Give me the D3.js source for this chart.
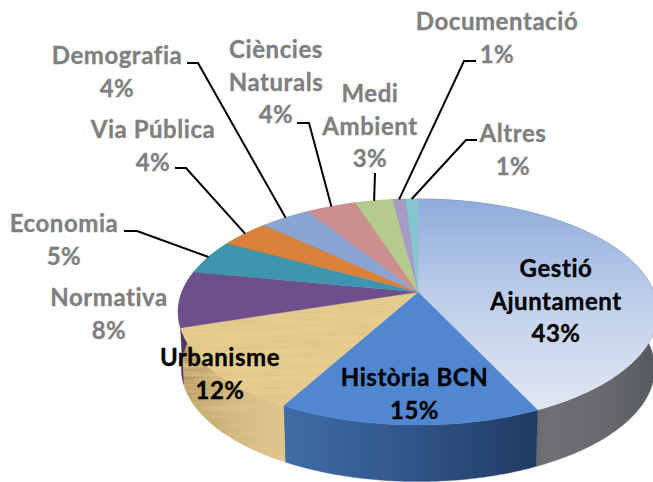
<!DOCTYPE html>
<html>
<head>
<meta charset="utf-8">
<script src="https://cdn.jsdelivr.net/npm/d3@7"></script>
<style>
html,body{margin:0;padding:0;background:#fff;overflow:hidden}
svg{display:block}
text{font-family:Lato,"Open Sans",sans-serif;font-weight:700;font-size:24px;letter-spacing:0.55px;text-anchor:middle;font-variant-ligatures:none;stroke-width:0.35px}
</style>
</head>
<body>
<script>
const categories = ["Gestió Ajuntament","Història BCN","Urbanisme","Normativa","Economia","Via Pública","Demografia","Ciències Naturals","Medi Ambient","Documentació","Altres"];
const values = [43,15,12,8,5,4,4,4,3,1,1];
const topColors = ["url(#gTop)","#5087d0","#e7cd8e","#6e4f8d","#3f95ad","#d9813a","#8aa5d2","#cc8f8d","#b5cb8d","#a79bc5","#85c5cf"];
const wallColors = ["url(#gWall)","url(#hWall)","url(#uWall)","#4e3668","#2d6c7e","#a05e2a","#64799a","#956866","#849567","#7a7190","#61909a"];
const darkLabels = ["Gestió Ajuntament","Història BCN","Urbanisme"];

// label layout: centre x, first baseline, line break list, leader [start, elbow]
const layout = {
  "Gestió Ajuntament":{x:556,y:277,lines:["Gestió","Ajuntament"]},
  "Història BCN":{x:414.5,y:386,lines:["Història BCN"]},
  "Urbanisme":{x:220,y:366,lines:["Urbanisme"]},
  "Normativa":{x:109,y:306,lines:["Normativa"]},
  "Economia":{x:64,y:232,lines:["Economia"],leader:[[124,231],[137,231]]},
  "Via Pública":{x:153,y:138,lines:["Via Pública"],leader:[[175,168],[186,168]]},
  "Demografia":{x:117,y:64,lines:["Demografia"],leader:[[187,63],[198,63]]},
  "Ciències Naturals":{x:276,y:58,lines:["Ciències","Naturals"],leader:[[297,123],[309,123]]},
  "Medi Ambient":{x:370,y:102,lines:["Medi","Ambient"],leader:[[375,173]]},
  "Documentació":{x:497,y:30,lines:["Documentació"],leader:[[476,61],[464,61]]},
  "Altres":{x:513,y:142,lines:["Altres"],leader:[[477,140],[466,140]]}
};

const W=653,H=482,cx=418,cy=292,persp=-0.177,ky=109.5,kx=236,depth=56.5,shrink=0.987,lineGap=32.5;
const project = a => {
  const co=Math.sin(a), s=-Math.cos(a), q=1+persp*s;
  return [cx+kx*co/q, cy+ky*s/q];
};
const lower = p => [cx+(p[0]-cx)*shrink, p[1]+depth];

const svg=d3.select("body").append("svg").attr("width",W).attr("height",H);
const defs=svg.append("defs");
function grad(id,x2,y2,stops){
  const g=defs.append("linearGradient").attr("id",id).attr("x1",0).attr("y1",0).attr("x2",x2).attr("y2",y2);
  stops.forEach(([o,c])=>g.append("stop").attr("offset",o).attr("stop-color",c));
}
grad("gTop",0,1,[[0,"#8fabdb"],[0.45,"#bccde9"],[1,"#e1e7f3"]]);
grad("gWall",1,0,[[0,"#4a4c50"],[0.55,"#6e7073"],[0.8,"#66686c"],[1,"#55585d"]]);
grad("hWall",1,0,[[0,"#3f6da6"],[0.5,"#31558a"],[1,"#203a61"]]);
grad("uWall",1,0,[[0,"#b3975e"],[0.5,"#d3b87f"],[1,"#e0c890"]]);
const f=defs.append("filter").attr("id","wood").attr("x",0).attr("y",0).attr("width",1).attr("height",1);
f.append("feTurbulence").attr("type","fractalNoise").attr("baseFrequency","0.015 0.22").attr("numOctaves",3).attr("seed",4).attr("result","n");
f.append("feColorMatrix").attr("in","n").attr("type","matrix").attr("values","0 0 0 0 0.72  0 0 0 0 0.55  0 0 0 0 0.25  1.6 0 0 0 -0.5").attr("result","t");
f.append("feComposite").attr("in","t").attr("in2","SourceAlpha").attr("operator","in").attr("result","tc");
const m=f.append("feMerge");
m.append("feMergeNode").attr("in","SourceGraphic");
m.append("feMergeNode").attr("in","tc");

const pie=d3.pie().sort(null).value(d=>d)(values);
const arcPts=(a0,a1)=>{
  const n=Math.max(4,Math.ceil((a1-a0)/0.01));
  return d3.range(n+1).map(i=>project(a0+(a1-a0)*i/n));
};
const line=d3.line();

// side walls
svg.append("g").selectAll("path").data(pie).join("path")
  .attr("d",d=>{const t=arcPts(d.startAngle,d.endAngle);return line(t.concat(t.map(lower).reverse()))+"Z";})
  .attr("fill",(d,i)=>wallColors[i])
  .attr("stroke",(d,i)=>wallColors[i]).attr("stroke-width",0.4)
  .attr("filter",(d,i)=>i===2?"url(#wood)":null);

// top faces
svg.append("g").selectAll("path").data(pie).join("path")
  .attr("d",d=>line([[cx,cy]].concat(arcPts(d.startAngle,d.endAngle)))+"Z")
  .attr("fill",(d,i)=>topColors[i])
  .attr("stroke",(d,i)=>topColors[i]).attr("stroke-width",0.4)
  .attr("filter",(d,i)=>i===2?"url(#wood)":null);

// leaders
svg.append("g").selectAll("path").data(pie.filter((d,i)=>layout[categories[i]].leader)).join("path")
  .attr("d",d=>{
    const l=layout[categories[d.index]].leader;
    return line(l.concat([project((d.startAngle+d.endAngle)/2)]));
  })
  .attr("fill","none").attr("stroke","#000").attr("stroke-width",2);

// labels
const lab=svg.append("g").selectAll("text").data(categories).join("text")
  .attr("fill",c=>darkLabels.includes(c)?"#000":"#7f7f7f")
  .attr("stroke",c=>darkLabels.includes(c)?"#000":"#7f7f7f");
lab.each(function(c,i){
  const L=layout[c], t=d3.select(this);
  L.lines.concat([values[i]+"%"]).forEach((s,j)=>{
    t.append("tspan").attr("x",L.x).attr("y",L.y+j*lineGap).text(s);
  });
});
</script>
</body>
</html>
